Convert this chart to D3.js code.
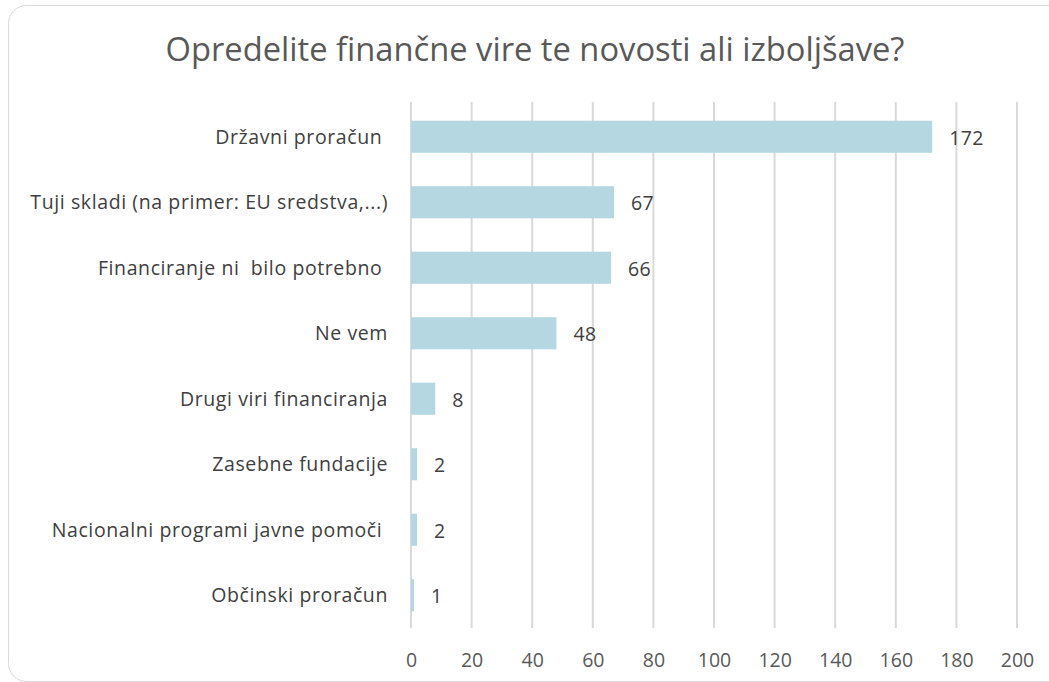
<!DOCTYPE html>
<html>
<head>
<meta charset="utf-8">
<script src="https://cdn.jsdelivr.net/npm/d3@7"></script>
<style>
  body { margin: 0; background: #fff; }
  text { white-space: pre; }
</style>
</head>
<body>
<div id="chart"></div>
<script>
// chart data
var categories = [
    "Državni proračun ",
    "Tuji skladi (na primer: EU sredstva,...)",
    "Financiranje ni  bilo potrebno ",
    "Ne vem",
    "Drugi viri financiranja",
    "Zasebne fundacije",
    "Nacionalni programi javne pomoči ",
    "Občinski proračun"
];
var counts = [172, 67, 66, 48, 8, 2, 2, 1];
var xTicks = [0, 20, 40, 60, 80, 100, 120, 140, 160, 180, 200];
var title = "Opredelite finančne vire te novosti ali izboljšave?";

var width = 1049, height = 682;
var margin = {top: 104, right: 32, bottom: 54, left: 411};
var font = "Open Sans";

var svg = d3.select("#chart").append("svg")
    .attr("width", width)
    .attr("height", height);

// outer frame
svg.append("rect")
    .attr("x", 8.5).attr("y", 5.5)
    .attr("width", 1060).attr("height", 676)
    .attr("rx", 18).attr("ry", 18)
    .attr("fill", "#fff")
    .attr("stroke", "#d9d9d9")
    .attr("stroke-width", 1);

svg.append("text")
    .attr("x", 535)
    .attr("y", 61)
    .attr("text-anchor", "middle")
    .attr("font-family", font)
    .attr("font-size", "32.7px")
    .attr("fill", "#595959")
    .text(title);

var x = d3.scaleLinear()
    .domain([0, 200])
    .range([margin.left, width - margin.right]);

var y = d3.scaleBand()
    .domain(categories)
    .range([margin.top, height - margin.bottom])
    .paddingInner(0.51)
    .paddingOuter(0.255);

// gridlines
svg.append("g")
    .selectAll("line")
    .data(xTicks)
    .join("line")
    .attr("x1", function(d) { return x(d); })
    .attr("x2", function(d) { return x(d); })
    .attr("y1", margin.top - 2)
    .attr("y2", height - margin.bottom)
    .attr("stroke", "#d9d9d9")
    .attr("stroke-width", 2);

// x axis labels
var xAxis = d3.axisBottom(x).tickValues(xTicks).tickSize(0).tickPadding(0);
var gx = svg.append("g")
    .attr("transform", "translate(0," + (height - margin.bottom + 25) + ")")
    .call(xAxis);
gx.select(".domain").remove();
gx.selectAll("text")
    .attr("font-family", font)
    .attr("font-size", "19.5px")
    .attr("fill", "#595959");

// category labels
svg.append("g")
    .selectAll("text")
    .data(categories)
    .join("text")
    .attr("x", margin.left - 23)
    .attr("y", function(d) { return y(d) + y.bandwidth() / 2; })
    .attr("dy", "0.35em")
    .attr("text-anchor", "end")
    .attr("font-family", font)
    .attr("font-size", "19.5px")
    .attr("letter-spacing", "0.6px")
    .attr("fill", "#404040")
    .text(function(d) { return d; });

// bars
svg.append("g")
    .selectAll("rect")
    .data(counts)
    .join("rect")
    .attr("x", x(0))
    .attr("y", function(d, i) { return y(categories[i]); })
    .attr("width", function(d) { return x(d) - x(0); })
    .attr("height", y.bandwidth())
    .attr("fill", "#b4d7e2");

// value labels
svg.append("g")
    .selectAll("text")
    .data(counts)
    .join("text")
    .attr("x", function(d) { return x(d) + 17; })
    .attr("y", function(d, i) { return y(categories[i]) + y.bandwidth() / 2 + 1; })
    .attr("dy", "0.35em")
    .attr("font-family", font)
    .attr("font-size", "19.5px")
    .attr("letter-spacing", "0.4px")
    .attr("fill", "#404040")
    .text(function(d) { return d; });
</script>
</body>
</html>
